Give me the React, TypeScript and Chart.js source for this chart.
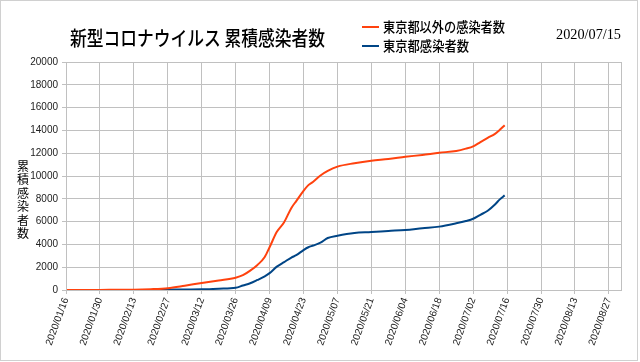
import React, { useEffect, useRef } from "react";
import { Chart, registerables } from "chart.js";
Chart.register(...registerables);

const chartTitle = "新型コロナウイルス 累積感染者数";
const yTitle = "累積感染者数";
const asOfDate = "2020/07/15";
const seriesNames = ["東京都以外の感染者数", "東京都感染者数"];
const seriesColors = ["#ff420e", "#004586"];

const axisStartDate = "2020/01/16";
const axisEndDate = "2020/09/01";
const tickLabels = [
  "2020/01/16", "2020/01/30", "2020/02/13", "2020/02/27", "2020/03/12", "2020/03/26",
  "2020/04/09", "2020/04/23", "2020/05/07", "2020/05/21", "2020/06/04", "2020/06/18",
  "2020/07/02", "2020/07/16", "2020/07/30", "2020/08/13", "2020/08/27",
];
const yMin = 0;
const yMax = 20000;
const yStep = 2000;

const dates = [
  "2020/01/16", "2020/01/30", "2020/02/13", "2020/02/20", "2020/02/27", "2020/03/05",
  "2020/03/12", "2020/03/19", "2020/03/26", "2020/03/29", "2020/04/01", "2020/04/04",
  "2020/04/07", "2020/04/09", "2020/04/12", "2020/04/15", "2020/04/18", "2020/04/20",
  "2020/04/23", "2020/04/25", "2020/04/27", "2020/04/30", "2020/05/03", "2020/05/07",
  "2020/05/14", "2020/05/21", "2020/05/28", "2020/06/04", "2020/06/11", "2020/06/18",
  "2020/06/25", "2020/06/29", "2020/07/02", "2020/07/05", "2020/07/08", "2020/07/11",
  "2020/07/13", "2020/07/15",
];
const outsideTokyo = [
  0, 10, 25, 70, 160, 380,
  620, 840, 1080, 1300, 1700, 2200,
  2900, 3750, 5100, 5950, 7200, 7800,
  8700, 9200, 9500, 10050, 10450, 10820,
  11120, 11340, 11490, 11680, 11850, 12040,
  12200, 12400, 12600, 12980, 13350, 13700,
  14050, 14450,
];
const tokyo = [
  0, 0, 3, 10, 30, 50,
  60, 120, 200, 400, 590, 880,
  1200, 1480, 2050, 2450, 2850, 3050,
  3500, 3750, 3900, 4150, 4560, 4760,
  5000, 5080, 5180, 5270, 5420, 5560,
  5850, 6050, 6250, 6600, 6950, 7500,
  7950, 8300,
];

function dayIndex(s: string): number {
  const [y, m, d] = s.split("/").map(Number);
  const [y0, m0, d0] = axisStartDate.split("/").map(Number);
  return Math.round((Date.UTC(y, m - 1, d) - Date.UTC(y0, m0 - 1, d0)) / 86400000);
}

const tickFont = "'Liberation Sans Narrow', 'Liberation Sans', Arial, sans-serif";
const cjkFont = "'Noto Sans CJK JP', sans-serif";

function drawScaled(ctx: CanvasRenderingContext2D, text: string, x: number, y: number, font: string, color: string, targetW: number) {
  ctx.save();
  ctx.font = font;
  const w = ctx.measureText(text).width;
  ctx.translate(x, y);
  ctx.scale(targetW / w, 1);
  ctx.fillStyle = color;
  ctx.textAlign = "left";
  ctx.textBaseline = "middle";
  ctx.fillText(text, 0, 0);
  ctx.restore();
}

const decor = {
  id: "decor",
  beforeDraw(chart: any) {
    const { ctx, width, height } = chart;
    ctx.save();
    ctx.fillStyle = "#ffffff";
    ctx.fillRect(0, 0, width, height);
    ctx.restore();
  },
  afterDraw(chart: any) {
    const { ctx, chartArea: a, width, height } = chart;
    ctx.save();
    ctx.strokeStyle = "#d0d0d0";
    ctx.lineWidth = 1;
    ctx.strokeRect(0.5, 0.5, width - 3, height - 2);
    ctx.strokeStyle = "#c0c0c0";
    ctx.strokeRect(Math.round(a.left) + 0.5, Math.round(a.top) + 0.5, Math.round(a.right - a.left), Math.round(a.bottom - a.top));
    ctx.restore();

    drawScaled(ctx, chartTitle, 70, 38, `500 20px ${cjkFont}`, "#000", 255);
    drawScaled(ctx, asOfDate, 556, 35, "14px 'Liberation Serif', 'Times New Roman', serif", "#000", 65);

    const rows = [27, 46];
    const widths = [122, 86];
    seriesNames.forEach((name, i) => {
      ctx.save();
      ctx.strokeStyle = seriesColors[i];
      ctx.lineWidth = 2;
      ctx.beginPath();
      ctx.moveTo(362, rows[i]);
      ctx.lineTo(379, rows[i]);
      ctx.stroke();
      ctx.restore();
      drawScaled(ctx, name, 383, rows[i], `500 14px ${cjkFont}`, "#000", widths[i]);
    });

    ctx.save();
    ctx.font = `12px ${cjkFont}`;
    ctx.fillStyle = "#000";
    ctx.textAlign = "center";
    ctx.textBaseline = "middle";
    Array.from(yTitle).forEach((ch, i) => {
      ctx.fillText(ch, 23, 166 + i * 13.5);
    });
    ctx.restore();
  },
};

export default function App() {
  const ref = useRef<HTMLCanvasElement | null>(null);
  useEffect(() => {
    if (!ref.current) return;
    const series = [outsideTokyo, tokyo];
    const chart = new Chart(ref.current, {
      type: "line",
      data: {
        datasets: series.map((vals, i) => ({
          label: seriesNames[i],
          data: dates.map((d, j) => ({ x: dayIndex(d), y: vals[j] })),
          borderColor: seriesColors[i],
          backgroundColor: seriesColors[i],
          borderWidth: 2,
          pointRadius: 0,
          cubicInterpolationMode: "monotone" as const,
          fill: false,
        })),
      },
      options: {
        animation: false,
        responsive: true,
        maintainAspectRatio: false,
        layout: { padding: { top: 62, right: 19, left: 0, bottom: 0 } },
        plugins: { legend: { display: false }, title: { display: false }, tooltip: { enabled: false } },
        scales: {
          x: {
            type: "linear",
            min: 0,
            max: dayIndex(axisEndDate),
            afterBuildTicks: (s: any) => {
              s.ticks = tickLabels.map((t) => ({ value: dayIndex(t) }));
            },
            afterFit: (s: any) => {
              s.height = 72;
            },
            grid: { color: "#c0c0c0", tickLength: 4, lineWidth: 1 },
            border: { display: true, color: "#c0c0c0" },
            ticks: {
              autoSkip: false,
              minRotation: 70,
              maxRotation: 70,
              padding: 2,
              color: "#222",
              font: { family: tickFont, size: 10 },
              callback: (v: any) => {
                const t = tickLabels.find((l) => dayIndex(l) === Number(v));
                return t ?? "";
              },
            },
          },
          y: {
            type: "linear",
            min: yMin,
            max: yMax,
            afterFit: (s: any) => {
              s.width = 66;
            },
            grid: { color: "#c0c0c0", tickLength: 4, lineWidth: 1 },
            border: { display: true, color: "#c0c0c0" },
            ticks: {
              stepSize: yStep,
              padding: 4,
              color: "#222",
              font: { family: tickFont, size: 10 },
              callback: (v: any) => String(v),
            },
          },
        },
      },
      plugins: [decor],
    });
    return () => chart.destroy();
  }, []);
  return (
    <div style={{ position: "absolute", left: 0, top: 0, width: 640, height: 362 }}>
      <canvas ref={ref} />
    </div>
  );
}
